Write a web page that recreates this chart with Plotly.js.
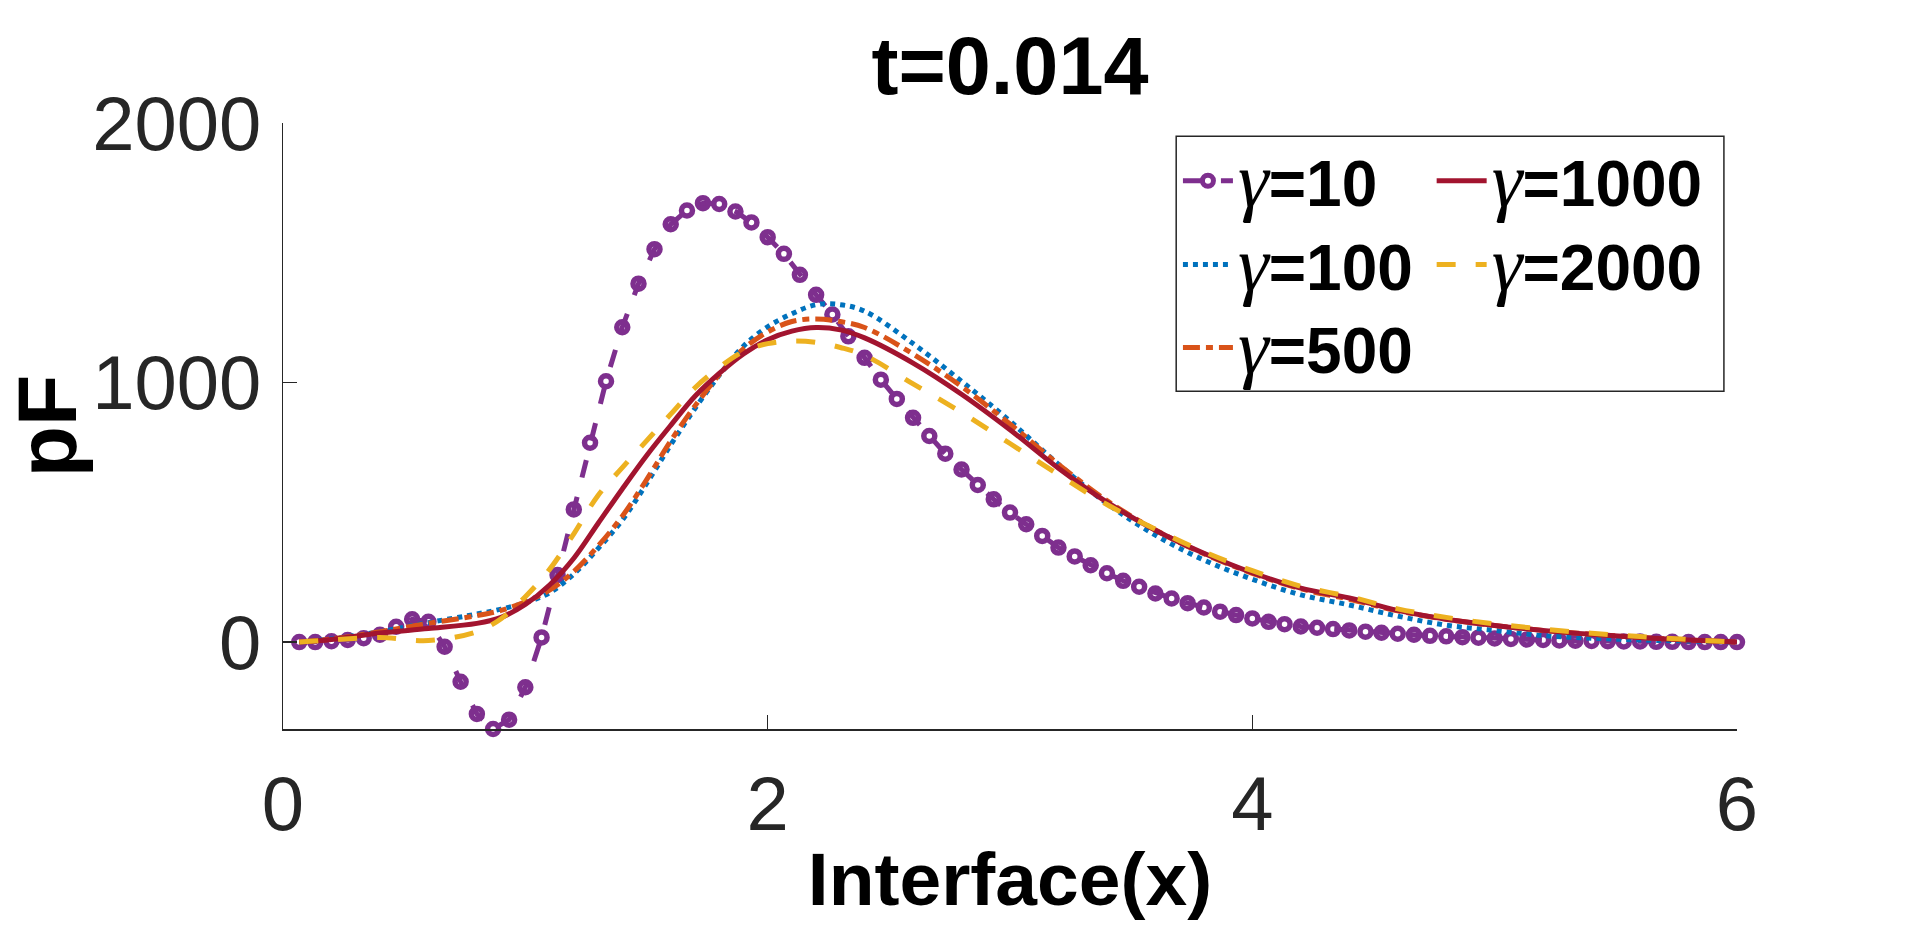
<!DOCTYPE html>
<html>
<head>
<meta charset="utf-8">
<script src="https://cdn.plot.ly/plotly-3.0.1.min.js"></script>
<style>
  html, body { margin: 0; padding: 0; background: #fff; }
  #chart { width: 1920px; height: 936px; }
</style>
</head>
<body>
<div id="chart"></div>
<script>
// gamma = 10, sampled with markers
const x10 = [0.067, 0.133, 0.2, 0.267, 0.333, 0.4, 0.467, 0.533, 0.6, 0.667,
    0.733, 0.8, 0.867, 0.933, 1.0, 1.067, 1.133, 1.2, 1.267, 1.333,
    1.4, 1.467, 1.533, 1.6, 1.667, 1.733, 1.8, 1.867, 1.933, 2.0,
    2.067, 2.133, 2.2, 2.267, 2.333, 2.4, 2.467, 2.533, 2.6, 2.667,
    2.733, 2.8, 2.867, 2.933, 3.0, 3.067, 3.133, 3.2, 3.267, 3.333,
    3.4, 3.467, 3.533, 3.6, 3.667, 3.733, 3.8, 3.867, 3.933, 4.0,
    4.067, 4.133, 4.2, 4.267, 4.333, 4.4, 4.467, 4.533, 4.6, 4.667,
    4.733, 4.8, 4.867, 4.933, 5.0, 5.067, 5.133, 5.2, 5.267, 5.333,
    5.4, 5.467, 5.533, 5.6, 5.667, 5.733, 5.8, 5.867, 5.933, 6.0];
const y10 = [0, 0, 3, 8, 15, 28, 59, 88, 78, -18,
    -153, -277, -335, -299, -174, 18, 258, 511, 768, 1005,
    1213, 1381, 1514, 1610, 1663, 1691, 1688, 1659, 1617, 1560,
    1496, 1415, 1338, 1262, 1178, 1095, 1011, 937, 864, 794,
    726, 665, 605, 550, 499, 454, 409, 364, 330, 296,
    265, 236, 213, 187, 168, 150, 133, 117, 104, 91,
    78, 69, 60, 55, 50, 45, 40, 36, 32, 28,
    24, 22, 19, 17, 14, 12, 10, 8, 6, 5,
    4, 3, 2, 2, 1, 1, 0, 0, 0, 0];

const xs = [0.067, 0.2, 0.4, 0.6, 0.8, 0.9, 1.0, 1.1, 1.2, 1.3,
    1.4, 1.5, 1.6, 1.7, 1.8, 1.9, 2.0, 2.1, 2.2, 2.3,
    2.4, 2.6, 2.8, 3.0, 3.2, 3.4, 3.6, 3.8, 4.0, 4.2,
    4.4, 4.6, 4.8, 5.0, 5.2, 5.4, 5.6, 5.8, 6.0];
const y100 = [0, 12, 40, 75, 108, 127, 152, 190, 262, 360,
    470, 610, 760, 900, 1028, 1140, 1215, 1265, 1300, 1300,
    1275, 1150, 1005, 851, 685, 534, 412, 316, 242, 182,
    143, 100, 65, 45, 25, 15, 8, 4, 0];
const y500 = [0, 12, 40, 72, 102, 122, 155, 200, 272, 370,
    485, 625, 775, 910, 1030, 1130, 1195, 1235, 1245, 1235,
    1212, 1110, 985, 840, 685, 545, 432, 340, 265, 205,
    165, 120, 88, 64, 45, 30, 18, 8, 0];
const y1000 = [0, 10, 35, 52, 72, 95, 145, 220, 323, 457,
    590, 718, 835, 947, 1035, 1110, 1165, 1198, 1212, 1203,
    1172, 1075, 955, 818, 670, 539, 431, 342, 267, 208,
    170, 122, 88, 64, 45, 30, 18, 8, 0];
const y2000 = [0, 8, 18, 6, 40, 90, 175, 280, 417, 565,
    672, 775, 878, 980, 1058, 1120, 1150, 1160, 1155, 1135,
    1105, 995, 885, 765, 645, 530, 435, 348, 275, 215,
    175, 128, 95, 70, 50, 34, 21, 10, 0];

const names = ['10', '100', '500', '1000', '2000'];
const colors = ['#7E2F8E', '#0072BD', '#D95319', '#A2142F', '#EDB120'];
const legendIds = ['legend', 'legend2', 'legend3', 'legend4', 'legend5'];

function label(g) {
    return '<span style="font-family:Liberation Serif;font-weight:normal;font-style:italic;font-size:78px">\u03b3</span><b>=' + g + '</b>';
}

const traces = [
    {x: x10, y: y10, name: label(names[0]), mode: 'lines+markers', legend: legendIds[0],
        line: {color: colors[0], width: 5, dash: '18px,20px'},
        marker: {symbol: 'circle-open', size: 11, color: colors[0], line: {width: 5.5, color: colors[0]}},
        cliponaxis: false},
    {x: xs, y: y100, name: label(names[1]), mode: 'lines', legend: legendIds[1],
        line: {color: colors[1], width: 5, dash: '5px,5px', shape: 'spline'}},
    {x: xs, y: y500, name: label(names[2]), mode: 'lines', legend: legendIds[2],
        line: {color: colors[2], width: 5, dash: '17px,6px,7px,6px', shape: 'spline'}},
    {x: xs, y: y1000, name: label(names[3]), mode: 'lines', legend: legendIds[3],
        line: {color: colors[3], width: 5, shape: 'spline'}},
    {x: xs, y: y2000, name: label(names[4]), mode: 'lines', legend: legendIds[4],
        line: {color: colors[4], width: 5, dash: '19px,20px', shape: 'spline'}}
];

const axisCol = '#262626';
const legendFont = {family: 'Liberation Sans, Arial, sans-serif', size: 64, color: '#000'};

// legend slots: two columns, three rows (paper coords)
const legendX = [0.6155, 0.6155, 0.6155, 0.790, 0.790];
const legendY = [0.904, 0.7657, 0.6287, 0.904, 0.7657];

const layout = {
    width: 1920,
    height: 936,
    margin: {l: 283, r: 183, t: 123, b: 207},
    paper_bgcolor: '#fff',
    plot_bgcolor: '#fff',
    font: {family: 'Liberation Sans, Arial, sans-serif', color: axisCol},
    title: {
        text: '<b>t=0.014</b>',
        font: {size: 81, color: '#000'},
        x: 0.5, xref: 'paper',
        y: 0.93, yref: 'container', yanchor: 'middle'
    },
    xaxis: {
        range: [0, 6],
        tickvals: [0, 2, 4, 6],
        ticks: 'inside', ticklen: 14, tickwidth: 1.5, tickcolor: axisCol,
        showline: true, linecolor: axisCol, linewidth: 1.5,
        showgrid: false, zeroline: false,
        tickfont: {size: 76, color: axisCol},
        ticklabelstandoff: 8,
        title: {text: '<b>Interface(x)</b>', font: {size: 75, color: '#000'}, standoff: 8}
    },
    yaxis: {
        range: [-335, 2000],
        tickvals: [0, 1000, 2000],
        ticks: 'inside', ticklen: 14, tickwidth: 1.5, tickcolor: axisCol,
        showline: true, linecolor: axisCol, linewidth: 1.5,
        showgrid: false, zeroline: false,
        tickfont: {size: 76, color: axisCol},
        ticklabelstandoff: 5,
        title: {text: '<b>pF</b>', font: {size: 84, color: '#000'}, standoff: 0}
    },
    shapes: [{
        type: 'rect', xref: 'paper', yref: 'paper',
        x0: 0.6143, x1: 0.991, y0: 0.5575, y1: 0.978,
        line: {color: axisCol, width: 1.5}, fillcolor: 'rgba(0,0,0,0)', layer: 'below'
    }],
    showlegend: true
};

legendIds.forEach(function (id, i) {
    layout[id] = {
        x: legendX[i], xanchor: 'left', y: legendY[i], yanchor: 'middle',
        bgcolor: 'rgba(0,0,0,0)', borderwidth: 0,
        font: legendFont, itemwidth: 50
    };
});

const config = {displayModeBar: false, staticPlot: true};

Plotly.newPlot('chart', traces, layout, config);
</script>
</body>
</html>
